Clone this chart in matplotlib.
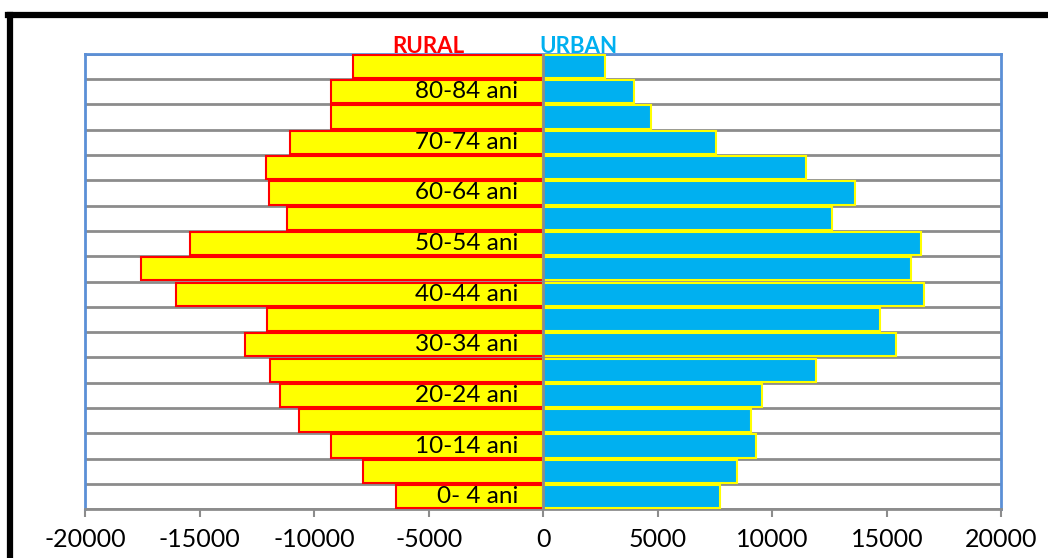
import numpy as np
import matplotlib
matplotlib.use("Agg")
import matplotlib.pyplot as plt
from matplotlib.lines import Line2D

# age groups, bottom to top
age_groups = ["0- 4 ani", "5-9 ani", "10-14 ani", "15-19 ani", "20-24 ani", "25-29 ani",
              "30-34 ani", "35-39 ani", "40-44 ani", "45-49 ani", "50-54 ani", "55-59 ani",
              "60-64 ani", "65-69 ani", "70-74 ani", "75-79 ani", "80-84 ani", "85+ ani"]
rural = [-6420, -7870, -9240, -10670, -11500, -11930, -13000, -12060, -16040,
         -17570, -15430, -11190, -11980, -12110, -11040, -9260, -9260, -8300]
urban = [7730, 8450, 9300, 9050, 9560, 11900, 15380, 14690, 16640,
         16060, 16480, 12620, 13620, 11470, 7560, 4700, 3970, 2700]
x_ticks = [-20000, -15000, -10000, -5000, 0, 5000, 10000, 15000, 20000]

plt.rcParams['font.family'] = ['Lato', 'DejaVu Sans']

fig = plt.figure(figsize=(10.48, 5.58), dpi=100)
ax = fig.add_axes([0.0811, 0.087, 0.8744, 0.817])

y = np.arange(len(age_groups))
ax.barh(y, rural, height=0.92, color='#FFFF00', edgecolor='#FF0000', linewidth=1.5, zorder=3)
ax.barh(y, urban, height=0.92, color='#00B0F0', edgecolor='#FFFF00', linewidth=1.5, zorder=3)

ax.set_xlim(-20000, 20000)
ax.set_ylim(-0.5, len(age_groups) - 0.5)

# horizontal gridlines on category boundaries
ax.set_yticks([])
ax.set_yticks(np.arange(-0.5, len(age_groups)), minor=True)
ax.tick_params(axis='y', which='both', left=False, labelleft=False)
ax.grid(axis='y', which='minor', color='#8C8C8C', linewidth=2, zorder=0)

ax.axvline(0, color='#8C8C8C', linewidth=2, zorder=4)

ax.set_xticks(x_ticks)
ax.set_xticklabels([str(v) for v in x_ticks])
ax.tick_params(axis='x', direction='out', length=6, width=1.5, color='#8C8C8C',
               labelsize=18, pad=7)

for side in ['left', 'right', 'top']:
    ax.spines[side].set_color('#5B8FD6')
    ax.spines[side].set_linewidth(2)
ax.spines['bottom'].set_color('#8C8C8C')
ax.spines['bottom'].set_linewidth(2)

# category labels, every other group, next to the zero axis
for i in range(0, len(age_groups), 2):
    if i == len(age_groups) - 1:
        continue
    ax.annotate(age_groups[i], xy=(0, y[i]), xytext=(-18, 0), textcoords='offset points',
                ha='right', va='center', fontsize=17.5, color='black', zorder=5)

top = len(age_groups) - 0.5
ax.text(-5000, top + 0.02, "RURAL", color='#FF0000', fontweight='bold',
        fontsize=16, ha='center', va='baseline', zorder=6)
ax.text(1550, top + 0.02, "URBAN", color='#00B0F0', fontweight='bold',
        fontsize=16, ha='center', va='baseline', zorder=6)

# black frame (left and top edges visible)
fig.add_artist(Line2D([0.0100, 0.0100], [0.0, 0.973], transform=fig.transFigure,
                      color='black', linewidth=4.5))
fig.add_artist(Line2D([0.0079, 1.0], [0.973, 0.973], transform=fig.transFigure,
                      color='black', linewidth=4.5))

fig.savefig('out.png', dpi=100)
